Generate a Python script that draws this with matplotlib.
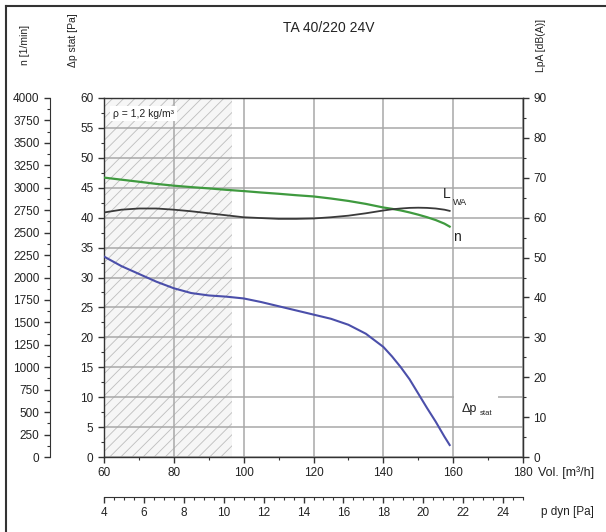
import numpy as np
import matplotlib
matplotlib.use("Agg")
import matplotlib.pyplot as plt
from matplotlib.ticker import MultipleLocator
from matplotlib.lines import Line2D
from matplotlib.patches import Rectangle

plt.rcParams['font.family'] = ['Liberation Sans', 'DejaVu Sans']
plt.rcParams['hatch.linewidth'] = 0.6
plt.rcParams['hatch.color'] = '#bdbdbd'

# volume flow [m3/h]
vol = [60, 65, 70, 75, 80, 85, 90, 95, 100, 105, 110, 115, 120, 125,
       130, 135, 140, 142.5, 145, 147.5, 150, 152.5, 155, 157.5, 159]
# static pressure [Pa]
dp_stat = [33.5, 31.9, 30.6, 29.3, 28.2, 27.4, 27.0, 26.8, 26.5, 25.9, 25.2,
           24.5, 23.8, 23.1, 22.1, 20.6, 18.4, 16.8, 15.0, 13.0, 10.6, 8.2,
           5.9, 3.4, 2.0]
# speed [1/min]
speed = [3113, 3090, 3067, 3043, 3023, 3007, 2993, 2977, 2963, 2947, 2933,
         2917, 2903, 2880, 2853, 2820, 2780, 2765, 2747, 2725, 2700, 2672,
         2640, 2600, 2567]
# sound power [dB(A)]
lwa = [61.3, 62.0, 62.3, 62.3, 62.0, 61.6, 61.1, 60.6, 60.1, 59.9, 59.7,
       59.7, 59.8, 60.1, 60.5, 61.1, 61.8, 62.1, 62.3, 62.45, 62.5, 62.45,
       62.3, 62.0, 61.7]

hatch_end = 96.7

title = "TA 40/220 24V"
txt = '#222222'
fs = 8.5

fig = plt.figure(figsize=(6.06, 5.32), dpi=100)
W, H = 606, 532
ax = fig.add_axes([104 / W, 1 - 457 / H, 419 / W, 359 / H])

# frame around the chart (left and top visible)
fig.add_artist(Line2D([6 / W, 6 / W], [0, 1 - 6 / H], color='#333333', lw=1.5))
fig.add_artist(Line2D([6 / W, 1], [1 - 6 / H, 1 - 6 / H], color='#333333', lw=1.5))

ax.set_xlim(60, 180)
ax.set_ylim(0, 60)
ax.xaxis.set_major_locator(MultipleLocator(20))
ax.xaxis.set_minor_locator(MultipleLocator(10))
ax.yaxis.set_major_locator(MultipleLocator(5))
ax.yaxis.set_minor_locator(MultipleLocator(2.5))
ax.grid(True, which='major', color='#a8a8a8', lw=1.1)
ax.tick_params(which='major', direction='out', length=4, width=1, labelsize=fs, colors='#333333', labelcolor=txt)
ax.tick_params(which='minor', direction='out', length=2.5, width=0.8, colors='#333333')
for s in ax.spines.values():
    s.set_color('#333333')
    s.set_linewidth(1)

ax.axvspan(60, hatch_end, facecolor='#f6f6f6', hatch='///', edgecolor='#bdbdbd', lw=0, zorder=0.5)

ax.plot(vol, dp_stat, color='#4b4faa', lw=1.5, zorder=3)

# speed axis on the far left
ax_n = ax.twinx()
ax_n.set_ylim(0, 4000)
ax_n.yaxis.set_ticks_position('left')
ax_n.yaxis.set_label_position('left')
ax_n.spines['left'].set_visible(True)
ax_n.spines['left'].set_position(('outward', 54 * 0.72))
for k in ['right', 'top', 'bottom']:
    ax_n.spines[k].set_visible(False)
ax_n.spines['left'].set_color('#333333')
ax_n.yaxis.set_major_locator(MultipleLocator(250))
ax_n.yaxis.set_minor_locator(MultipleLocator(125))
ax_n.tick_params(which='major', length=4, width=1, labelsize=fs, colors='#333333', labelcolor=txt)
ax_n.tick_params(which='minor', length=2.5, width=0.8, colors='#333333')
ax_n.plot(vol, speed, color='#3f9a3f', lw=1.6, zorder=3)

# sound level axis on the right
ax_l = ax.twinx()
ax_l.set_ylim(0, 90)
for k in ['left', 'top', 'bottom']:
    ax_l.spines[k].set_visible(False)
ax_l.spines['right'].set_color('#333333')
ax_l.yaxis.set_major_locator(MultipleLocator(10))
ax_l.yaxis.set_minor_locator(MultipleLocator(5))
ax_l.tick_params(which='major', length=4, width=1, labelsize=fs, colors='#333333', labelcolor=txt)
ax_l.tick_params(which='minor', length=2.5, width=0.8, colors='#333333')
ax_l.plot(vol, lwa, color='#3a3a3a', lw=1.3, zorder=3)

# dynamic pressure axis below
ax_p = ax.twiny()
ax_p.set_xlim(4, 25)
ax_p.xaxis.set_ticks_position('bottom')
ax_p.xaxis.set_label_position('bottom')
for k in ['left', 'right', 'top']:
    ax_p.spines[k].set_visible(False)
ax_p.spines['bottom'].set_visible(True)
ax_p.spines['bottom'].set_position(('outward', 40 * 0.72))
ax_p.spines['bottom'].set_color('#333333')
ax_p.xaxis.set_major_locator(MultipleLocator(2))
ax_p.xaxis.set_minor_locator(MultipleLocator(0.5))
ax_p.tick_params(which='major', length=4, width=1, labelsize=fs, colors='#333333', labelcolor=txt)
ax_p.tick_params(which='minor', length=2.5, width=0.8, colors='#333333')

# labels
fig.text(329 / W, 1 - 28 / H, title, ha='center', va='center', fontsize=10, color=txt)
fig.text(25 / W, 1 - 45 / H, "n [1/min]", rotation=90, ha='center', va='center', fontsize=7.5, color=txt)
fig.text(73 / W, 1 - 40 / H, "Δp stat [Pa]", rotation=90, ha='center', va='center', fontsize=7.5, color=txt)
fig.text(541 / W, 1 - 45 / H, "LpA [dB(A)]", rotation=90, ha='center', va='center', fontsize=7.5, color=txt)
fig.text(538 / W, 1 - 473 / H, "Vol. [m³/h]", ha='left', va='center', fontsize=9, color=txt)
fig.text(541 / W, 1 - 512 / H, "p dyn [Pa]", ha='left', va='center', fontsize=8.5, color=txt)

ax.text(62.5, 57.4, "ρ = 1,2 kg/m³", fontsize=7.5, color=txt, va='center', ha='left',
        bbox=dict(facecolor='white', edgecolor='none', pad=2), zorder=4)

ax.text(157.1, 43.9, "L", fontsize=10, color=txt, va='center', ha='left', zorder=4)
ax.text(159.9, 42.6, "WA", fontsize=6.5, color=txt, va='center', ha='left', zorder=4)
ax.text(159.9, 36.8, "n", fontsize=10, color=txt, va='center', ha='left', zorder=4)

ax.add_patch(Rectangle((160.3, 6.3), 12.5, 7.0, facecolor='white', edgecolor='none', zorder=2))
ax.text(162.4, 8.0, "Δp", fontsize=9, color=txt, va='center', ha='left', zorder=4)
ax.text(167.7, 7.3, "stat", fontsize=5.5, color=txt, va='center', ha='left', zorder=4)

fig.savefig("out.png", dpi=100)
